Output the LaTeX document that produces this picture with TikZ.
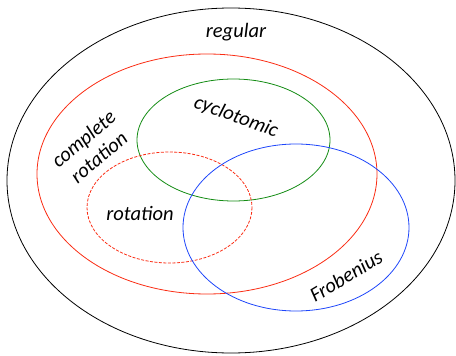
\documentclass[tikz,border=0pt]{standalone}
\usepackage{fontspec}
\setmainfont{Carlito}
\usepackage{xcolor}
\usepackage{tikz}
\definecolor{setred}{RGB}{250,45,20}
\definecolor{setgreen}{RGB}{20,140,20}
\definecolor{setblue}{RGB}{30,70,250}
\begin{document}
\begin{tikzpicture}[x=1pt,y=-1pt,line width=0.8pt,
  lab/.style={font=\itshape\fontsize{20.5}{24}\selectfont,inner sep=0pt,align=center}]
  \useasboundingbox (0,0) rectangle (456,356);
  \draw[black] (231,180.5) ellipse[x radius=224,y radius=172.5];
  \draw[setred] (207,174) ellipse[x radius=170,y radius=120];
  \draw[setgreen] (233.5,140) ellipse[x radius=96.5,y radius=61];
  \draw[setred,dash pattern=on 3pt off 1.5pt] (169.5,207.5) ellipse[x radius=82.5,y radius=55.5];
  \draw[setblue] (296,227.5) ellipse[x radius=113,y radius=83.5];
  \node[lab] (reg) at (236,32) {regular};
  \node[lab,rotate=40] (crot) at (91,148) {complete\\rotation};
  \node[lab,rotate=-20] (cyc) at (236,117) {cyclotomic};
  \node[lab] (rot) at (140,213) {rotation};
  \node[lab,rotate=31] (frob) at (346,276) {Frobenius};
\end{tikzpicture}
\end{document}
